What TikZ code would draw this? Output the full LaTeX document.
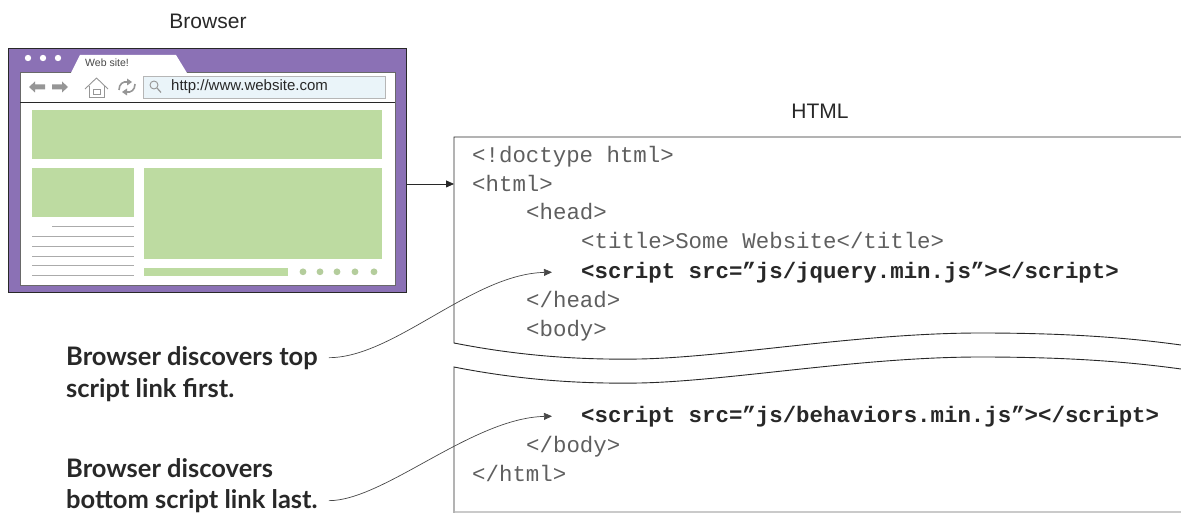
\documentclass[tikz,border=0pt]{standalone}
\usepackage{fontspec}
\setmainfont{Liberation Sans}
\setmonofont{Liberation Mono}
\newfontfamily\notefont{Lato}
\usetikzlibrary{arrows.meta,calc}
\definecolor{winpurple}{RGB}{139,113,181}
\definecolor{pagegreen}{RGB}{189,219,161}
\definecolor{ink}{RGB}{40,40,40}
\definecolor{codeink}{RGB}{95,95,95}
\definecolor{urlbg}{RGB}{234,244,249}
\definecolor{icongray}{RGB}{150,150,150}
\begin{document}
\begin{tikzpicture}[x=1pt,y=-1pt,
  heading/.style={font=\fontsize{21}{25}\selectfont, text=ink, inner sep=0pt},
  code/.style={font=\fontsize{22.4}{27}\ttfamily, text=codeink, anchor=base west, inner sep=0pt},
  codebold/.style={font=\fontsize{22.4}{27}\ttfamily\bfseries, text=ink, anchor=base west, inner sep=0pt},
  note/.style={font=\fontsize{25.5}{30}\notefont\bfseries, text=ink, anchor=base west, inner sep=0pt},
  frame/.style={draw=ink, line width=0.9pt},
  pointer/.style={draw=ink, line width=0.8pt, -{Triangle[length=8pt,width=7pt]}},
  leader/.style={draw=ink!85, line width=0.7pt, -{Triangle[length=8pt,width=7pt]}},
  block/.style={fill=pagegreen},
  textline/.style={draw=icongray!80, line width=1pt},
]
\useasboundingbox (0,0) rectangle (1181,513);

% ---------- headings ----------
\node[heading] (hbrowser) at (208,21) {Browser};
\node[heading] (hhtml) at (820,111) {HTML};

% ---------- browser window ----------
\node[draw=ink, line width=0.8pt, fill=winpurple, minimum width=398pt,
      minimum height=244pt, anchor=north west, inner sep=0pt] (win) at (8,48) {};
\fill[white] (20,72) rectangle (395,285);
\draw[ink!70, line width=0.5pt] (20,72) rectangle (395,285);
% tab
\fill[white] (71,73) -- (80,55) -- (176,55) -- (187,73) -- cycle;
\node[font=\fontsize{10.5}{12}\selectfont, text=ink!85, anchor=west, inner sep=0pt] (tab) at (85,63) {Web site!};
% window dots
\foreach \dx in {28,43,58} \fill[white] (\dx,58) circle (3.2pt);
% toolbar separator
\draw[ink, line width=1pt] (20,103) -- (395,103);
% back / forward arrows
\fill[icongray] (29,87) -- (35,81.5) -- (35,84.5) -- (45,84.5) -- (45,89.5) -- (35,89.5) -- (35,92.5) -- cycle;
\fill[icongray] (68,87) -- (62,81.5) -- (62,84.5) -- (52,84.5) -- (52,89.5) -- (62,89.5) -- (62,92.5) -- cycle;
% home
\draw[icongray, line width=0.9pt, line join=round] (85,89) -- (96.5,78) -- (108,89);
\draw[icongray, line width=0.9pt] (89,86) -- (89,97) -- (104,97) -- (104,86);
\draw[icongray, line width=0.8pt] (93,89) rectangle (100,94);
% reload
\draw[icongray, line width=1.6pt] (119,90) .. controls (119,84) and (123,81) .. (128,82);
\fill[icongray] (127,78.5) -- (132,82) -- (127,85.5) -- cycle;
\draw[icongray, line width=1.6pt] (135,84) .. controls (135,90) and (131,93) .. (126,92);
\fill[icongray] (127,88.5) -- (122,92) -- (127,95.5) -- cycle;
% address bar
\draw[icongray!70, fill=urlbg, line width=0.7pt] (143,76) rectangle (385,98);
\draw[icongray, line width=0.9pt] (154,85) circle (4pt);
\draw[icongray, line width=1.2pt] (157,88) -- (161,92.5);
\node[font=\fontsize{15}{17}\selectfont, text=ink, anchor=west, inner sep=0pt] (url) at (171,87) {http://www.website.com};
% page layout blocks
\fill[block] (32,110) rectangle (382,159);
\fill[block] (32,168) rectangle (134,217);
\fill[block] (144,168) rectangle (382,259);
\fill[block] (144,268) rectangle (288,275.5);
\foreach \dx in {303,320,337,355,374} \fill[pagegreen!85!gray] (\dx,271.8) circle (3.4pt);
\draw[textline] (52,227) -- (134,227);
\foreach \ly in {237,247,257,266,275} \draw[textline] (32,\ly) -- (134,\ly);

% ---------- HTML document (torn in two) ----------
\coordinate (boxTL) at (454,137);
\draw[frame] (1181,137) -- (boxTL) -- (454,343)
  .. controls (520,356) and (580,360) .. (640,359)
  .. controls (730,357) and (860,333) .. (980,333)
  .. controls (1070,333) and (1130,338) .. (1181,345);
\draw[frame] (454,513) -- (454,367)
  .. controls (520,380) and (580,384) .. (640,383)
  .. controls (730,381) and (860,357) .. (980,357)
  .. controls (1070,357) and (1130,362) .. (1181,369);
\draw[icongray!50, line width=2pt] (455,512) -- (1181,512);

% code lines
\node[code] (c1) at (472,163) {<!doctype html>};
\node[code] (c2) at (472,192) {<html>};
\node[code] (c3) at (526,220) {<head>};
\node[code] (c4) at (581,249) {<title>Some Website</title>};
\node[codebold] (c5) at (581,278) {<script src=”js/jquery.min.js”></script>};
\node[code] (c6) at (526,307) {</head>};
\node[code] (c7) at (526,336) {<body>};
\node[codebold] (c8) at (581,422) {<script src=”js/behaviors.min.js”></script>};
\node[code] (c9) at (526,452) {</body>};
\node[code] (c10) at (472,481) {</html>};

% browser requests the document
\draw[pointer] (win.east |- c2.west) -- (boxTL |- c2.west);

% ---------- annotations ----------
\node[note] (n1) at (66,365) {Browser discovers top};
\node[note] (n2) at (66,397) {script link first.};
\node[note] (n3) at (66,477) {Browser discovers};
\node[note] (n4) at (66,508) {bottom script link last.};

\coordinate (tip1) at ([xshift=-29pt]c5.west);
\coordinate (tip2) at ([xshift=-29pt]c8.west);
\draw[leader] ([xshift=11pt]n1.east) .. controls +(65,0) and ($(tip1)+(-80,2)$) .. (tip1);
\draw[leader] ([xshift=11pt]n4.east) .. controls +(55,0) and ($(tip2)+(-80,2)$) .. (tip2);
\end{tikzpicture}
\end{document}
